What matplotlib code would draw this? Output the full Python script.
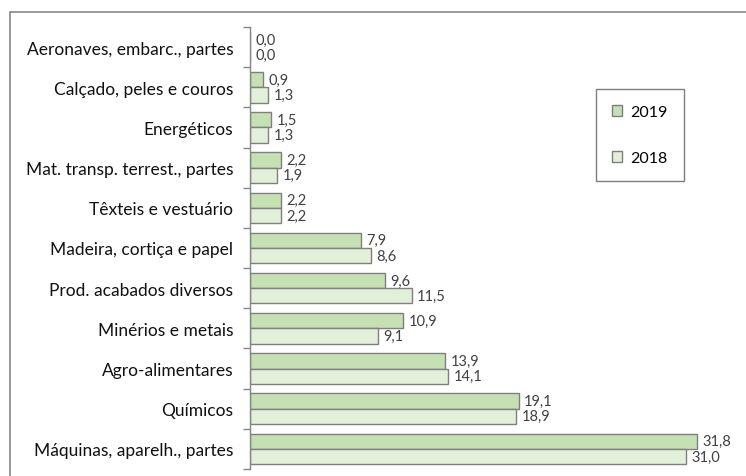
import numpy as np
import matplotlib
matplotlib.use("Agg")
import matplotlib.pyplot as plt
from matplotlib.patches import Rectangle, Patch

# === Data ===
categories = ["Aeronaves, embarc., partes", "Calçado, peles e couros", "Energéticos",
              "Mat. transp. terrest., partes", "Têxteis e vestuário",
              "Madeira, cortiça e papel", "Prod. acabados diversos",
              "Minérios e metais", "Agro-alimentares", "Químicos",
              "Máquinas, aparelh., partes"]
values_2019 = [0.0, 0.9, 1.5, 2.2, 2.2, 7.9, 9.6, 10.9, 13.9, 19.1, 31.8]
values_2018 = [0.0, 1.3, 1.3, 1.9, 2.2, 8.6, 11.5, 9.1, 14.1, 18.9, 31.0]
series_labels = ["2019", "2018"]

# === Style ===
plt.rcParams['font.family'] = ['Lato', 'DejaVu Sans']
COLOR_2019 = "#c5e0b3"
COLOR_2018 = "#e2efd9"
EDGE = "#7f7f7f"
AXIS_GRAY = "#868686"

fig = plt.figure(figsize=(7.46, 4.77), dpi=100)
ax = fig.add_axes([250/746, 1 - 470/477, (728 - 250)/746, (470 - 28)/477])

y = np.arange(len(categories))
h = 0.38
b19 = ax.barh(y - h/2, values_2019, height=h, color=COLOR_2019, edgecolor=EDGE,
              linewidth=1, label=series_labels[0])
b18 = ax.barh(y + h/2, values_2018, height=h, color=COLOR_2018, edgecolor=EDGE,
              linewidth=1, label=series_labels[1])

for bars, vals in ((b19, values_2019), (b18, values_2018)):
    for bar, v in zip(bars, vals):
        ax.annotate(f"{v:.1f}".replace(".", ","),
                    (bar.get_width(), bar.get_y() + bar.get_height()/2),
                    xytext=(4, 0), textcoords="offset points",
                    ha="left", va="center", fontsize=10.5, color="#404040")

ax.set_xlim(0, 34)
ax.set_ylim(len(categories) - 0.5, -0.5)
ax.set_yticks(y)
ax.set_yticklabels(categories, fontsize=12.5, color="#111111")
ax.set_yticks(np.arange(-0.5, len(categories), 1), minor=True)
ax.tick_params(axis="y", which="major", length=0, pad=12)
ax.tick_params(axis="y", which="minor", length=5, color=AXIS_GRAY, width=1)
ax.set_xticks([])
for s in ("top", "right", "bottom"):
    ax.spines[s].set_visible(False)
ax.spines["left"].set_color(AXIS_GRAY)
ax.spines["left"].set_linewidth(1)

handles = [Patch(facecolor=COLOR_2019, edgecolor=EDGE, label="2019"),
           Patch(facecolor=COLOR_2018, edgecolor=EDGE, label="2018")]
leg = ax.legend(handles=handles, loc="upper left",
                bbox_to_anchor=((596 - 250)/478, 1 - (90 - 28)/442),
                fontsize=11.5, labelspacing=2.0, handlelength=0.65, handleheight=0.65,
                handletextpad=0.5, borderpad=1.0, borderaxespad=0,
                fancybox=False, edgecolor=EDGE, framealpha=1)
leg.get_frame().set_linewidth(1)

# outer chart frame (extends beyond the image on right/bottom)
fig.patches.append(Rectangle((10/746, -0.2), 1.2, 1.2 - 13/477,
                             transform=fig.transFigure, fill=False,
                             edgecolor=AXIS_GRAY, linewidth=1.2))

fig.savefig("out.png", dpi=100)
